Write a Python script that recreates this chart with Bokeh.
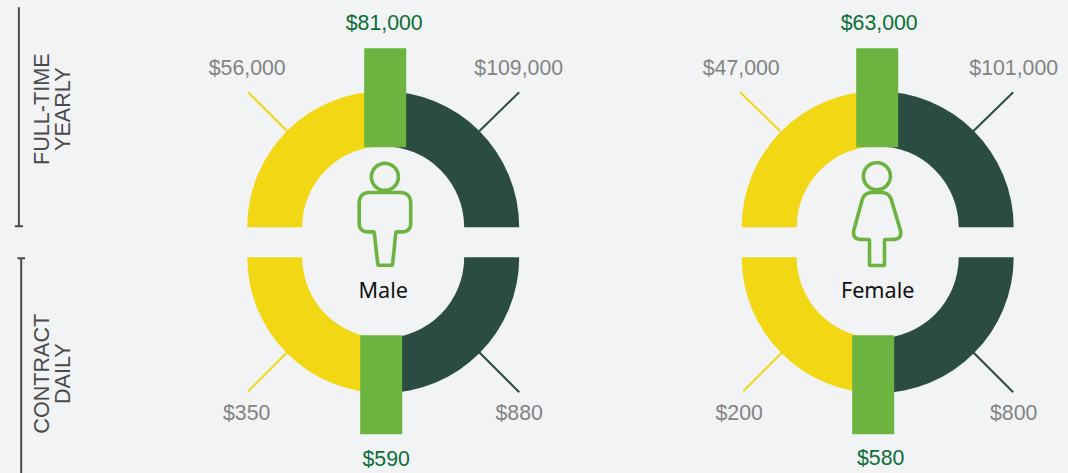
import numpy as np
from bokeh.plotting import figure
from bokeh.embed import file_html
from bokeh.resources import INLINE
from bokeh.core.properties import value

# ---- data ----
groups = ["Male", "Female"]
rows = ["FULL-TIME\nYEARLY", "CONTRACT\nDAILY"]
male_full_time = [56000, 81000, 109000]
female_full_time = [47000, 63000, 101000]
male_contract = [350, 590, 880]
female_contract = [200, 580, 800]

# ---- layout (pixels in the page) ----
W, H = 1068, 473
BG, YEL, DARK, GRN = "#f1f3f5", "#f2d714", "#2b4c40", "#6cb33f"
MONEY_GREEN, GREY = "#0b6e35", "#838383"
CX = {"Male": 383, "Female": 877.5}
BAR_X = {("Male", 0): 385, ("Male", 1): 381, ("Female", 0): 877, ("Female", 1): 873}
Y_TOP, Y_BOT = 227, 257
R_OUT, R_IN = 136, 81
Y = lambda py: H - py
SHIFT = 0.3

p = figure(width=W, height=H, x_range=(SHIFT, W + SHIFT), y_range=(-SHIFT, H - SHIFT),
           output_backend="svg", toolbar_location=None, min_border=0,
           background_fill_color=BG, border_fill_color=BG, outline_line_color=None)
p.axis.visible = False
p.grid.visible = False

def label(x, py, s, color, size=21.3, font="Liberation Sans", angle=0.0):
    p.text([x], [Y(py)], text=[s], text_color=color, text_font=value(font),
           text_font_size=f"{size}px", text_align="center", text_baseline="middle", angle=angle)

def money(v):
    return f"${v:,}"

table = {("Male", 0): male_full_time, ("Female", 0): female_full_time,
         ("Male", 1): male_contract, ("Female", 1): female_contract}
leaders = {("Male", 0): ((248, 92, 287, 131), (519, 92, 479, 131)),
           ("Female", 0): ((740, 92, 780, 131), (1013, 92, 973, 131)),
           ("Male", 1): ((248, 391, 287, 352), (519, 392, 479, 352)),
           ("Female", 1): ((743, 391, 782, 352), (1013, 392, 973, 352))}
label_pos = {("Male", 0): ((247, 68), (384, 23), (518.5, 68)),
             ("Female", 0): ((741, 68), (879, 23), (1013.5, 68)),
             ("Male", 1): ((246.5, 413), (386, 459), (519, 413)),
             ("Female", 1): ((739, 413), (880.5, 458), (1013.5, 413))}

for (g, r), vals in table.items():
    cx = CX[g]
    cy = Y_TOP if r == 0 else Y_BOT
    a = (np.pi/2, np.pi) if r == 0 else (np.pi, 1.5*np.pi)
    b = (0, np.pi/2) if r == 0 else (1.5*np.pi, 2*np.pi)
    for seg, col in zip(leaders[(g, r)], (YEL, DARK)):
        p.line([seg[0], seg[2]], [Y(seg[1]), Y(seg[3])], line_color=col, line_width=2)
    p.annular_wedge([cx], [Y(cy)], R_IN, R_OUT, a[0], a[1], color=YEL, line_color=None)
    p.annular_wedge([cx], [Y(cy)], R_IN, R_OUT, b[0], b[1], color=DARK, line_color=None)
    bx = BAR_X[(g, r)]
    t, bt = (48, 147) if r == 0 else (335, 434)
    p.quad(left=[bx - 21], right=[bx + 21], top=[Y(t)], bottom=[Y(bt)], color=GRN, line_color=None)
    for v, (lx, ly), col in zip(vals, label_pos[(g, r)], (GREY, MONEY_GREEN, GREY)):
        label(lx, ly, money(v), col)

# row brackets and titles
for x, y0, y1, cap, hw in ((18.7, 7, 226, 226, 4), (21, 258, 475, 258, 3.8)):
    p.line([x, x], [Y(y0), Y(y1)], line_color="#4a4a4a", line_width=2)
    p.line([x - hw, x + hw], [Y(cap), Y(cap)], line_color="#4a4a4a", line_width=2)
for text, py in zip(rows, (109, 373.5)):
    a, b = text.split("\n")
    label(40.8, py, a, "#4a4a4a", size=21.6, angle=np.pi/2)
    label(61.8, py, b, "#4a4a4a", size=21.6, angle=np.pi/2)

# person icons
def rounded(pts):
    xs, ys = [], []
    n = len(pts)
    for i, (x, y, rad) in enumerate(pts):
        px, py = pts[i - 1][:2]
        nx, ny = pts[(i + 1) % n][:2]
        v0 = np.array([px - x, py - y], float); v0 /= np.hypot(*v0)
        v1 = np.array([nx - x, ny - y], float); v1 /= np.hypot(*v1)
        s = np.array([x, y]) + v0 * rad
        e = np.array([x, y]) + v1 * rad
        for t in np.linspace(0, 1, 12):
            q = (1 - t)**2 * s + 2 * t * (1 - t) * np.array([x, y]) + t**2 * e
            xs.append(q[0]); ys.append(q[1])
    xs.append(xs[0]); ys.append(ys[0])
    return xs, ys

male_shape = [(359, 192.3, 11), (410.5, 192.3, 11), (410.5, 231.7, 9), (395.7, 231.7, 1),
              (392.3, 265, 1), (377.7, 265, 1), (374, 231.7, 1), (359, 231.7, 9)]
female_shape = [(864, 192.3, 8), (889, 192.3, 8), (903, 239.3, 11), (884.3, 239.3, 1),
                (884.3, 265.3, 1), (869.3, 265.3, 1), (869.3, 239.3, 1), (851, 239.3, 11)]
heads = {"Male": (384.7, 176.7), "Female": (876.7, 176)}
for g, shape in zip(groups, (male_shape, female_shape)):
    xs, ys = rounded(shape)
    p.line(xs, [Y(v) for v in ys], line_color=GRN, line_width=3.6, line_join="round")
    hx, hy = heads[g]
    th = np.linspace(0, 2*np.pi, 80)
    p.line(hx + 13.5*np.cos(th), Y(hy) + 13.5*np.sin(th), line_color=GRN, line_width=3.6)
    label(CX[g], 289, g, "#111111", size=21.6, font="Noto Sans")

html = file_html(p, INLINE)
html = html.replace("<head>", f"<head><style>html,body{{margin:0;padding:0;overflow:hidden;background:{BG}}}</style>", 1)
open("out.html", "w").write(html)
